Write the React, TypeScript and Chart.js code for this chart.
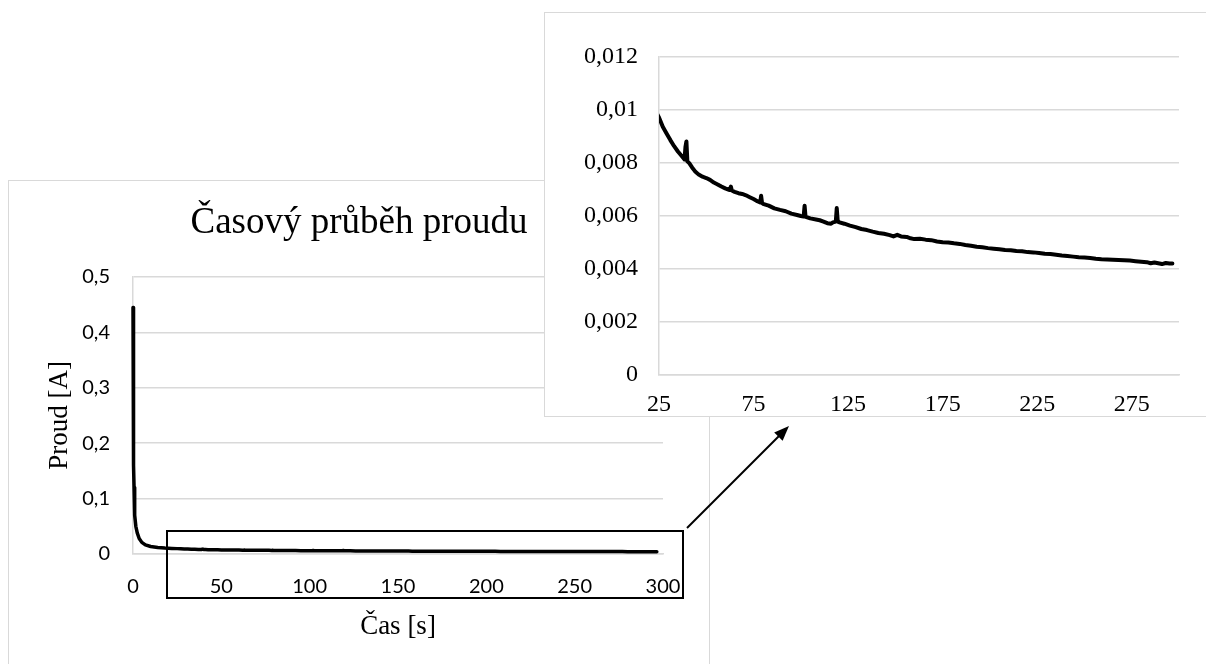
import React, { useEffect, useRef } from 'react';
import { Chart, registerables } from 'chart.js';

Chart.register(...registerables);

// ---- data ----
const TIME_S = [
  0, 0.2, 0.4, 0.6, 0.8, 1.1, 1.6, 2.4, 3.5, 5,
  7, 10, 14, 18, 22, 25, 27, 29, 31, 33,
  35, 37, 38.5, 39, 39.5, 40, 41, 42.5, 44, 46,
  48, 50, 52, 54, 56, 58, 60, 62, 62.5, 63,
  63.5, 65, 67, 69, 71, 73, 75, 77, 78.5, 79,
  79.5, 80, 83, 86, 89, 92, 95, 98, 100, 101.5,
  102, 102.5, 103, 105, 108, 110, 112, 114, 116, 117,
  118.5, 119, 119.5, 120, 123, 126, 129, 132, 135, 138,
  141, 144, 147, 149, 151, 153, 156, 158, 160, 163,
  166, 169, 172, 175, 178, 181, 184, 187, 190, 193,
  196, 199, 202, 205, 208, 211, 214, 217, 220, 223,
  226, 229, 232, 235, 238, 241, 244, 247, 250, 253,
  256, 259, 262, 265, 268, 271, 274, 277, 280, 283,
  285, 287, 289, 291, 293, 295, 296.5,
];

const CURRENT_A = [
  0.445, 0.3, 0.16, 0.12, 0.095, 0.07, 0.05, 0.038, 0.028, 0.021,
  0.0165, 0.0135, 0.0118, 0.0108, 0.0101, 0.0097, 0.00935, 0.0091, 0.00885, 0.00862,
  0.00842, 0.00825, 0.00812, 0.0086, 0.0088, 0.00805, 0.00798, 0.00782, 0.00768, 0.00755,
  0.00747, 0.00742, 0.00735, 0.00725, 0.00718, 0.0071, 0.00703, 0.00698, 0.00697, 0.0071,
  0.00695, 0.0069, 0.00685, 0.00682, 0.00677, 0.0067, 0.00663, 0.00655, 0.0065, 0.00675,
  0.00648, 0.00645, 0.00638, 0.00628, 0.00622, 0.00617, 0.00608, 0.00603, 0.00599, 0.00597,
  0.00638, 0.00596, 0.00595, 0.0059, 0.00586, 0.00583, 0.00578, 0.00572, 0.0057, 0.00575,
  0.00578, 0.00629, 0.00582, 0.00576, 0.0057, 0.00563, 0.00557, 0.0055, 0.00546, 0.0054,
  0.00535, 0.00532, 0.00527, 0.00522, 0.00528, 0.00522, 0.0052, 0.00515, 0.00512, 0.00513,
  0.0051, 0.00508, 0.00503, 0.005, 0.00499, 0.00496, 0.00494, 0.0049, 0.00487, 0.00483,
  0.00481, 0.00478, 0.00476, 0.00474, 0.00471, 0.0047, 0.00467, 0.00466, 0.00463, 0.00462,
  0.0046, 0.00457, 0.00456, 0.00453, 0.0045, 0.00448, 0.00446, 0.00444, 0.00443, 0.00441,
  0.00438, 0.00436, 0.00435, 0.00434, 0.00433, 0.00432, 0.00431, 0.00429, 0.00427, 0.00425,
  0.00421, 0.00424, 0.00421, 0.00418, 0.00422, 0.0042, 0.0042,
];

const MAIN_X_TICKS = [0, 50, 100, 150, 200, 250, 300];
const MAIN_Y_TICKS = [0, 0.1, 0.2, 0.3, 0.4, 0.5];
const INSET_X_TICKS = [25, 75, 125, 175, 225, 275];
const INSET_Y_TICKS = [0, 0.002, 0.004, 0.006, 0.008, 0.01, 0.012];

const TITLE = 'Časový průběh proudu';
const X_TITLE = 'Čas [s]';
const Y_TITLE = 'Proud [A]';

// ---- styles ----
const SERIF = '"Liberation Serif", "Times New Roman", serif';
const SANS = 'Lato, "Open Sans", sans-serif';
const GRID = '#d9d9d9';

const fmt = (v: any) => String(v).replace('.', ',');
const setTicks = (vals: number[]) => (scale: any) => {
  scale.ticks = vals.map((v) => ({ value: v }));
};

function points() {
  return TIME_S.map((t, i) => ({ x: t, y: CURRENT_A[i] }));
}

function mainConfig(): any {
  return {
    type: 'line',
    data: {
      datasets: [
        {
          data: points(),
          borderColor: '#000',
          borderWidth: 3.5,
          pointRadius: 0,
          tension: 0,
          fill: false,
          clip: false,
          borderJoinStyle: 'round',
          borderCapStyle: 'round',
        },
      ],
    },
    options: {
      animation: false,
      responsive: false,
      events: [],
      layout: { padding: 0 },
      plugins: {
        legend: { display: false },
        tooltip: { enabled: false },
        title: {
          display: true,
          text: TITLE,
          color: '#000',
          font: { family: SERIF, size: 37, weight: 'normal' },
          padding: { top: 19.8, bottom: 31.8 },
        },
      },
      scales: {
        x: {
          type: 'linear',
          min: 0,
          max: 300,
          afterBuildTicks: setTicks(MAIN_X_TICKS),
          afterFit: (s: any) => {
            s.height = 125;
          },
          grid: { display: false, drawTicks: false },
          border: { display: true, color: GRID, width: 1.5 },
          ticks: {
            padding: 20.7,
            color: '#000',
            font: { family: SANS, size: 20 },
            maxRotation: 0,
            callback: fmt,
          },
          title: {
            display: true,
            text: X_TITLE,
            color: '#000',
            font: { family: SERIF, size: 27 },
            padding: { top: 0, bottom: 35.8 },
          },
        },
        y: {
          type: 'linear',
          min: 0,
          max: 0.5,
          afterBuildTicks: setTicks(MAIN_Y_TICKS),
          afterFit: (s: any) => {
            s.width = 124;
          },
          grid: { color: GRID, lineWidth: 1.5, drawTicks: false },
          border: { display: true, color: GRID, width: 1.5 },
          ticks: {
            padding: 23,
            color: '#000',
            font: { family: SANS, size: 20 },
            callback: fmt,
          },
          title: {
            display: true,
            text: Y_TITLE,
            color: '#000',
            font: { family: SERIF, size: 27 },
            padding: { top: 34.8, bottom: 0 },
          },
        },
        yR: {
          type: 'linear',
          position: 'right',
          display: true,
          grid: { display: false, drawTicks: false },
          border: { display: false },
          ticks: { display: false },
          afterFit: (s: any) => {
            s.width = 46;
          },
        },
      },
    },
  };
}

function insetConfig(): any {
  return {
    type: 'line',
    data: {
      datasets: [
        {
          data: points(),
          borderColor: '#000',
          borderWidth: 4,
          pointRadius: 0,
          tension: 0,
          fill: false,
          borderJoinStyle: 'round',
          borderCapStyle: 'round',
        },
      ],
    },
    options: {
      animation: false,
      responsive: false,
      events: [],
      layout: { padding: { top: 43.5, right: 44, left: 0, bottom: 0 } },
      plugins: {
        legend: { display: false },
        tooltip: { enabled: false },
        title: { display: false },
      },
      scales: {
        x: {
          type: 'linear',
          min: 25,
          max: 300,
          afterBuildTicks: setTicks(INSET_X_TICKS),
          afterFit: (s: any) => {
            s.height = 41;
          },
          grid: { display: false, drawTicks: false },
          border: { display: true, color: GRID, width: 1.5 },
          ticks: {
            padding: 15.6,
            color: '#000',
            font: { family: SERIF, size: 24 },
            maxRotation: 0,
            autoSkip: false,
            callback: fmt,
          },
        },
        y: {
          type: 'linear',
          min: 0,
          max: 0.012,
          afterBuildTicks: setTicks(INSET_Y_TICKS),
          afterFit: (s: any) => {
            s.width = 114;
          },
          grid: { color: GRID, lineWidth: 1.5, drawTicks: false },
          border: { display: true, color: GRID, width: 1.5 },
          ticks: {
            padding: 21,
            color: '#000',
            font: { family: SERIF, size: 24 },
            callback: fmt,
          },
        },
      },
    },
  };
}

function ChartCanvas({ config, width, height }: { config: () => any; width: number; height: number }) {
  const ref = useRef<HTMLCanvasElement | null>(null);
  useEffect(() => {
    if (!ref.current) return;
    const chart = new Chart(ref.current, config());
    return () => chart.destroy();
  }, []);
  return <canvas ref={ref} width={width} height={height} style={{ display: 'block', width, height }} />;
}

export default function App() {
  return (
    <div
      style={{
        position: 'fixed',
        left: 0,
        top: 0,
        width: 1206,
        height: 664,
        overflow: 'hidden',
        background: '#fff',
      }}
    >
      {/* main chart */}
      <div
        style={{
          position: 'absolute',
          left: 8,
          top: 180,
          width: 702,
          height: 500,
          border: `1px solid ${GRID}`,
          boxSizing: 'border-box',
          background: '#fff',
        }}
      >
        <ChartCanvas config={mainConfig} width={700} height={498} />
      </div>

      {/* zoom inset */}
      <div
        style={{
          position: 'absolute',
          left: 544,
          top: 12,
          width: 680,
          height: 405,
          border: `1px solid ${GRID}`,
          boxSizing: 'border-box',
          background: '#fff',
        }}
      >
        <ChartCanvas config={insetConfig} width={678} height={403} />
      </div>

      {/* annotation: zoom rectangle and arrow */}
      <svg
        width={1206}
        height={664}
        style={{ position: 'absolute', left: 0, top: 0, pointerEvents: 'none' }}
      >
        <rect x={167} y={531} width={516} height={67} fill="none" stroke="#000" strokeWidth={2} />
        <line x1={687} y1={528} x2={779} y2={436} stroke="#000" strokeWidth={2} />
        <polygon points="789,426 782.6,440.8 774.2,432.4" fill="#000" />
      </svg>
    </div>
  );
}
